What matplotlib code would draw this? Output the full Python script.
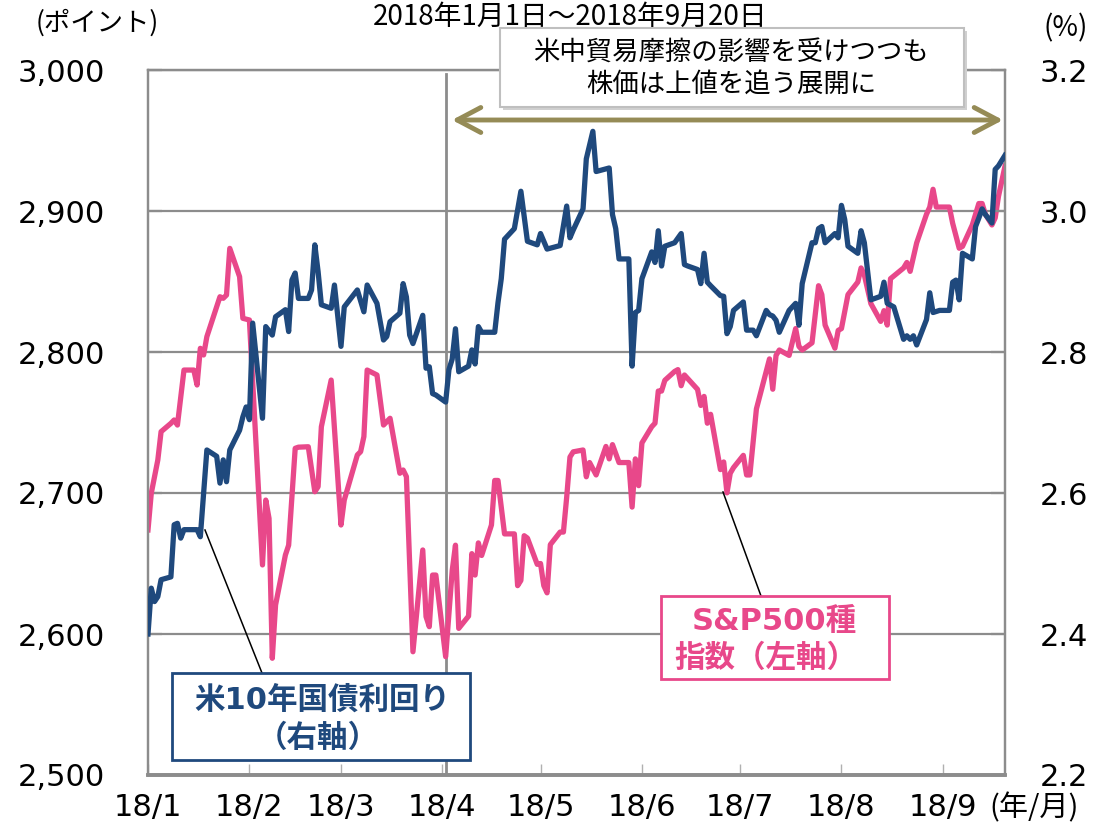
import matplotlib
matplotlib.use('Agg')
import matplotlib.pyplot as plt
from matplotlib.patches import Rectangle
import pandas as pd

YEAR = '2018-'

# S&P500 (left axis, points)
spx_dates = ["01-01", "01-02", "01-04", "01-05", "01-08", "01-09", "01-10", "01-12", "01-15", "01-16",
             "01-17", "01-18", "01-19", "01-23", "01-24", "01-25", "01-26", "01-29", "01-30", "02-01",
             "02-05", "02-06", "02-07", "02-08", "02-09", "02-12", "02-13", "02-15", "02-16", "02-19",
             "02-21", "02-22", "02-23", "02-26", "03-01", "03-02", "03-06", "03-07", "03-08", "03-09",
             "03-12", "03-14", "03-16", "03-19", "03-20", "03-21", "03-23", "03-26", "03-27", "03-28",
             "03-29", "03-30", "04-02", "04-03", "04-04", "04-05", "04-06", "04-09", "04-10", "04-11",
             "04-12", "04-13", "04-16", "04-17", "04-18", "04-20", "04-23", "04-24", "04-25", "04-26",
             "04-27", "04-30", "05-01", "05-02", "05-03", "05-04", "05-07", "05-08", "05-09", "05-10",
             "05-11", "05-14", "05-15", "05-16", "05-18", "05-21", "05-22", "05-23", "05-25", "05-28",
             "05-29", "05-30", "05-31", "06-01", "06-04", "06-05", "06-06", "06-07", "06-08", "06-11",
             "06-12", "06-13", "06-14", "06-18", "06-19", "06-20", "06-21", "06-22", "06-25", "06-26",
             "06-27", "06-28", "06-29", "07-02", "07-03", "07-04", "07-06", "07-10", "07-11", "07-12",
             "07-13", "07-16", "07-18", "07-19", "07-20", "07-23", "07-25", "07-26", "07-27", "07-30",
             "07-31", "08-01", "08-03", "08-06", "08-07", "08-08", "08-10", "08-13", "08-14", "08-15",
             "08-16", "08-20", "08-21", "08-22", "08-24", "08-27", "08-28", "08-29", "08-30", "09-03",
             "09-04", "09-06", "09-07", "09-10", "09-12", "09-13", "09-14", "09-16", "09-17", "09-18",
             "09-20"]
spx_values = [2673.8, 2699.8, 2723.4, 2743.5, 2749.4, 2751.8, 2748.2, 2787.2, 2787.2, 2776.6,
              2802.6, 2797.9, 2810.9, 2839.2, 2838.1, 2840.4, 2873.5, 2853.4, 2823.9, 2822.7,
              2649.0, 2695.0, 2682.0, 2582.8, 2620.6, 2656.0, 2663.0, 2731.7, 2732.5, 2732.8,
              2700.9, 2704.5, 2747.0, 2780.1, 2677.3, 2695.0, 2727.0, 2729.3, 2740.0, 2787.2,
              2783.7, 2748.2, 2753.0, 2714.0, 2716.3, 2711.6, 2587.4, 2659.6, 2612.3, 2605.2,
              2641.8, 2641.8, 2583.9, 2614.0, 2645.0, 2663.0, 2604.0, 2612.7, 2657.0, 2641.8,
              2664.6, 2655.7, 2677.3, 2708.9, 2708.9, 2671.0, 2671.0, 2634.3, 2638.0, 2669.7,
              2668.0, 2649.4, 2650.0, 2634.3, 2629.2, 2663.4, 2672.3, 2672.3, 2697.0, 2725.5,
              2729.2, 2730.5, 2711.5, 2721.6, 2712.8, 2733.0, 2724.2, 2734.3, 2721.6, 2721.6,
              2690.0, 2724.2, 2705.2, 2735.5, 2747.0, 2749.5, 2772.3, 2772.3, 2779.9, 2786.2,
              2787.5, 2776.1, 2783.7, 2773.5, 2762.1, 2768.5, 2749.5, 2755.8, 2716.6, 2722.0,
              2700.1, 2714.0, 2718.0, 2726.7, 2712.8, 2712.8, 2759.6, 2795.1, 2773.6, 2797.6,
              2801.4, 2797.6, 2816.6, 2804.0, 2801.4, 2806.5, 2847.0, 2840.7, 2819.1, 2802.7,
              2815.3, 2816.6, 2840.7, 2849.6, 2859.6, 2854.6, 2834.3, 2821.7, 2829.3, 2819.1,
              2852.0, 2859.6, 2863.5, 2857.2, 2877.4, 2897.7, 2902.8, 2915.4, 2902.8, 2902.8,
              2891.3, 2873.6, 2874.9, 2890.1, 2905.3, 2905.3, 2897.7, 2890.1, 2895.1, 2910.3,
              2931.8]

# US 10-year yield (right axis, %)
yld_dates = ["01-01", "01-02", "01-03", "01-04", "01-05", "01-08", "01-09", "01-10", "01-11", "01-12",
             "01-16", "01-17", "01-18", "01-19", "01-22", "01-23", "01-24", "01-25", "01-26", "01-29",
             "01-30", "01-31", "02-01", "02-02", "02-05", "02-06", "02-08", "02-09", "02-12", "02-13",
             "02-14", "02-15", "02-16", "02-19", "02-20", "02-21", "02-22", "02-23", "02-26", "02-27",
             "03-01", "03-02", "03-06", "03-08", "03-09", "03-12", "03-14", "03-15", "03-16", "03-19",
             "03-20", "03-21", "03-22", "03-23", "03-26", "03-27", "03-28", "03-29", "03-30", "04-02",
             "04-03", "04-04", "04-05", "04-06", "04-09", "04-10", "04-11", "04-12", "04-13", "04-17",
             "04-18", "04-19", "04-20", "04-23", "04-25", "04-27", "04-30", "05-01", "05-03", "05-07",
             "05-09", "05-10", "05-11", "05-14", "05-15", "05-17", "05-18", "05-22", "05-23", "05-24",
             "05-25", "05-28", "05-29", "05-30", "05-31", "06-01", "06-04", "06-05", "06-06", "06-07",
             "06-08", "06-11", "06-13", "06-14", "06-15", "06-18", "06-19", "06-20", "06-21", "06-22",
             "06-25", "06-26", "06-27", "06-28", "06-29", "07-02", "07-03", "07-05", "07-06", "07-09",
             "07-10", "07-11", "07-12", "07-13", "07-16", "07-18", "07-19", "07-20", "07-23", "07-24",
             "07-25", "07-26", "07-27", "07-30", "07-31", "08-01", "08-02", "08-03", "08-06", "08-07",
             "08-08", "08-10", "08-13", "08-14", "08-15", "08-17", "08-20", "08-21", "08-22", "08-23",
             "08-24", "08-27", "08-28", "08-29", "08-31", "09-03", "09-04", "09-05", "09-06", "09-07",
             "09-10", "09-11", "09-12", "09-13", "09-14", "09-16", "09-17", "09-18", "09-20"]
yld_values = [2.400, 2.465, 2.446, 2.453, 2.477, 2.481, 2.555, 2.557, 2.536, 2.548,
              2.548, 2.538, 2.600, 2.661, 2.652, 2.614, 2.647, 2.616, 2.661, 2.689,
              2.708, 2.722, 2.704, 2.841, 2.706, 2.836, 2.824, 2.850, 2.860, 2.829,
              2.902, 2.912, 2.876, 2.876, 2.888, 2.952, 2.914, 2.867, 2.862, 2.895,
              2.808, 2.864, 2.888, 2.857, 2.895, 2.869, 2.817, 2.822, 2.843, 2.855,
              2.897, 2.878, 2.824, 2.812, 2.852, 2.777, 2.779, 2.741, 2.739, 2.729,
              2.775, 2.790, 2.833, 2.772, 2.780, 2.803, 2.783, 2.836, 2.828, 2.828,
              2.870, 2.904, 2.960, 2.975, 3.028, 2.957, 2.952, 2.968, 2.946, 2.951,
              3.007, 2.962, 2.973, 3.003, 3.074, 3.113, 3.056, 3.061, 2.995, 2.975,
              2.932, 2.932, 2.780, 2.856, 2.859, 2.904, 2.942, 2.927, 2.972, 2.922,
              2.950, 2.955, 2.968, 2.924, 2.922, 2.917, 2.897, 2.940, 2.899, 2.894,
              2.880, 2.879, 2.826, 2.836, 2.859, 2.871, 2.831, 2.831, 2.823, 2.859,
              2.853, 2.851, 2.845, 2.828, 2.859, 2.869, 2.838, 2.897, 2.955, 2.955,
              2.975, 2.978, 2.955, 2.968, 2.962, 3.008, 2.988, 2.950, 2.940, 2.972,
              2.955, 2.874, 2.879, 2.899, 2.869, 2.864, 2.818, 2.823, 2.818, 2.823,
              2.810, 2.846, 2.884, 2.856, 2.859, 2.859, 2.899, 2.902, 2.874, 2.940,
              2.932, 2.978, 2.990, 3.003, 2.995, 2.983, 3.059, 3.064, 3.079]

month_ticks = ["01-01", "02-01", "03-01", "04-01", "05-01", "06-01", "07-01", "08-01", "09-01"]
month_labels = ["18/1", "18/2", "18/3", "18/4", "18/5", "18/6", "18/7", "18/8", "18/9"]
left_ticks = [2500, 2600, 2700, 2800, 2900, 3000]
left_labels = ["2,500", "2,600", "2,700", "2,800", "2,900", "3,000"]
right_ticks = [2.2, 2.4, 2.6, 2.8, 3.0, 3.2]
right_labels = ["2.2", "2.4", "2.6", "2.8", "3.0", "3.2"]
x_start, x_end = "01-01", "09-20"
divider_date = "04-02"

title = "2018年1月1日～2018年9月20日"
note = ["米中貿易摩擦の影響を受けつつも", "株価は上値を追う展開に"]
yld_label = ["米10年国債利回り", "（右軸）"]
spx_label = ["S&P500種", "指数（左軸）"]

CJK = ['Noto Sans CJK JP', 'DejaVu Sans']
LAT = ['DejaVu Sans', 'Noto Sans CJK JP']
PINK = '#E8488A'
NAVY = '#1F497D'
GRAY = '#8c8c8c'
OLIVE = '#958B56'

def to_dt(lst):
    return pd.to_datetime([YEAR + d for d in lst])

W, H = 1106, 827
fig = plt.figure(figsize=(W / 100, H / 100), dpi=100)
L, R, T, B = 148, 1005, 70, 775
ax = fig.add_axes([L / W, 1 - B / H, (R - L) / W, (B - T) / H])
ax2 = ax.twinx()

ax.plot(to_dt(spx_dates), spx_values, color=PINK, lw=3.8, zorder=3)
ax2.plot(to_dt(yld_dates), yld_values, color=NAVY, lw=3.8, zorder=3)

ax.set_xlim(to_dt([x_start])[0], to_dt([x_end])[0])
ax.set_ylim(2500, 3000)
ax2.set_ylim(2.2, 3.2)

ax.set_yticks(left_ticks)
ax.set_yticklabels(left_labels, family=LAT)
ax2.set_yticks(right_ticks)
ax2.set_yticklabels(right_labels, family=LAT)
ax.set_xticks(to_dt(month_ticks))
ax.set_xticklabels(month_labels, family=LAT)

ax.grid(axis='y', color=GRAY, lw=1.6, zorder=1)
ax.set_axisbelow(True)
ax.tick_params(axis='x', direction='in', length=8, width=1, color='#b0b0b0', labelsize=22, pad=13)
ax.tick_params(axis='y', direction='in', length=10, width=1.6, color=GRAY, labelsize=22, pad=31)
ax2.tick_params(axis='y', direction='in', length=10, width=1.6, color=GRAY, labelsize=22, pad=25)
ax2.tick_params(axis='x', length=0)

for a in (ax, ax2):
    for s in a.spines.values():
        s.set_color(GRAY)
        s.set_linewidth(1.6)
    a.spines['bottom'].set_linewidth(2.6)

ax.axvline(to_dt([divider_date])[0], ymin=0, ymax=(B - 74) / (B - T), color=GRAY, lw=2, zorder=2)

# double arrow
ax2.annotate('', xy=((452 - L) / (R - L), (B - 120) / (B - T)),
             xytext=((1003 - L) / (R - L), (B - 120) / (B - T)),
             xycoords='axes fraction', textcoords='axes fraction',
             arrowprops=dict(arrowstyle='<->,head_length=0.85,head_width=0.45', color=OLIVE,
                             lw=3.5, mutation_scale=20, shrinkA=0, shrinkB=0), zorder=6)

def fx(px):
    return (px - L) / (R - L)

def fy(py):
    return (B - py) / (B - T)

def box(x0, y0, x1, y1, ec, lw, shadow=False):
    if shadow:
        ax2.add_patch(Rectangle((fx(x0 + 3), fy(y1 + 3)), fx(x1) - fx(x0), fy(y0) - fy(y1),
                                transform=ax2.transAxes, fc='#d0d0d0', ec='none',
                                clip_on=False, zorder=7))
    ax2.add_patch(Rectangle((fx(x0), fy(y1)), fx(x1) - fx(x0), fy(y0) - fy(y1),
                            transform=ax2.transAxes, fc='white', ec=ec, lw=lw,
                            clip_on=False, zorder=8))

# note box
box(500, 28, 964, 107, '#bfbfbf', 1.5, shadow=True)
ax2.text(fx(731), fy(53), note[0], transform=ax2.transAxes, ha='center', va='center',
         fontsize=19, family=CJK, zorder=9)
ax2.text(fx(731), fy(84), note[1], transform=ax2.transAxes, ha='center', va='center',
         fontsize=19, family=CJK, zorder=9)

# leader lines
ax2.plot([fx(205), fx(262)], [fy(530), fy(673)], transform=ax2.transAxes, color='black',
         lw=1.1, clip_on=False, zorder=7)
ax2.plot([fx(723), fx(761)], [fy(492), fy(596)], transform=ax2.transAxes, color='black',
         lw=1.1, clip_on=False, zorder=7)

# yield label box
box(172, 673, 470, 760, NAVY, 2)
ax2.text(fx(322), fy(700), yld_label[0], transform=ax2.transAxes, ha='center', va='center',
         fontsize=22, fontweight='bold', color=NAVY, family=LAT, zorder=9)
ax2.text(fx(318), fy(738), yld_label[1], transform=ax2.transAxes, ha='center', va='center',
         fontsize=22, fontweight='bold', color=NAVY, family=LAT, zorder=9)

# spx label box
box(661, 596, 889, 679, PINK, 2)
ax2.text(fx(774), fy(621), spx_label[0], transform=ax2.transAxes, ha='center', va='center',
         fontsize=22, fontweight='bold', color=PINK, family=LAT, zorder=9)
ax2.text(fx(766), fy(658), spx_label[1], transform=ax2.transAxes, ha='center', va='center',
         fontsize=22, fontweight='bold', color=PINK, family=LAT, zorder=9)

# figure texts
fig.text(570 / W, 1 - 2 / H, title, ha='center', va='top', fontsize=20, family=CJK)
fig.text(97 / W, 1 - 23 / H, '(ポイント)', ha='center', va='center', fontsize=19, family=CJK)
fig.text(1066 / W, 1 - 28 / H, '(%)', ha='center', va='center', fontsize=20, family=CJK)
fig.text(1034 / W, 1 - 808 / H, '(年/月)', ha='center', va='center', fontsize=21, family=CJK)

fig.savefig('out.png', dpi=100)
